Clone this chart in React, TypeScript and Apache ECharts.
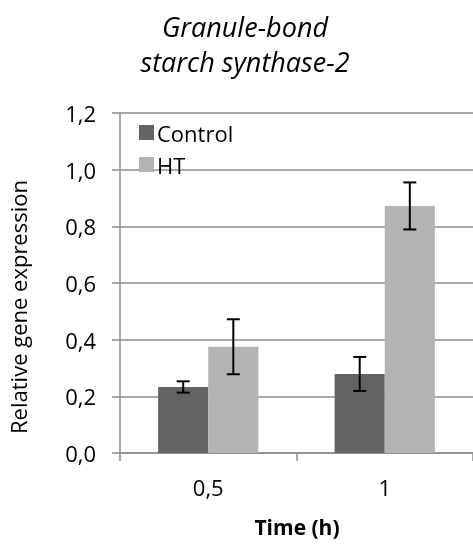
import React, { useEffect, useRef } from "react";
import * as echarts from "echarts";

// Time points (h) and expression values
const categories = ["0,5", "1"];
const controlValues = [0.233, 0.279];
const htValues = [0.375, 0.872];
// Half-width of the error bars
const controlErr = [0.02, 0.06];
const htErr = [0.097, 0.083];
const yTicks = { min: 0, max: 1.2, interval: 0.2 };

const FONT = "'Open Sans', sans-serif";
const AXIS_GRAY = "#8c8c8c";
const BAR_FRACTION = 0.284;

export default function App() {
  const ref = useRef<HTMLDivElement>(null);

  useEffect(() => {
    if (!ref.current) return;
    const chart = echarts.init(ref.current, null, { renderer: "svg" });

    const errData: any[] = [];
    controlValues.forEach((v, i) => errData.push([i, v - controlErr[i], v + controlErr[i], 0]));
    htValues.forEach((v, i) => errData.push([i, v - htErr[i], v + htErr[i], 1]));

    chart.setOption({
      animation: false,
      textStyle: { fontFamily: FONT },
      title: {
        text: "Granule-bond\nstarch synthase-2",
        left: 240,
        textAlign: "center",
        top: 4,
        textStyle: {
          fontFamily: FONT,
          fontStyle: "italic",
          fontWeight: "normal",
          fontSize: 27,
          lineHeight: 35,
          color: "#000",
        },
      },
      legend: {
        orient: "vertical",
        left: 134,
        top: 116,
        itemWidth: 15,
        itemHeight: 15,
        itemGap: 9,
        icon: "rect",
        textStyle: { fontFamily: FONT, fontSize: 22, lineHeight: 23, color: "#000", padding: [0, 0, 0, -2] },
        data: ["Control", "HT"],
      },
      grid: { left: 120, top: 113, width: 355, height: 340 },
      xAxis: {
        type: "category",
        data: categories,
        axisLine: { lineStyle: { color: AXIS_GRAY, width: 1.5 } },
        axisTick: { show: true, length: 8, lineStyle: { color: AXIS_GRAY, width: 1.5 } },
        axisLabel: { fontFamily: FONT, fontSize: 22, color: "#000", margin: 23 },
      },
      yAxis: {
        type: "value",
        min: yTicks.min,
        max: yTicks.max,
        interval: yTicks.interval,
        axisLine: { show: true, lineStyle: { color: AXIS_GRAY, width: 1.5 } },
        axisTick: { show: true, length: 8, lineStyle: { color: AXIS_GRAY, width: 1.5 } },
        splitLine: { lineStyle: { color: AXIS_GRAY, width: 1.5 } },
        axisLabel: {
          fontFamily: FONT,
          fontSize: 22,
          color: "#000",
          margin: 24,
          formatter: (v: number) => v.toFixed(1).replace(".", ","),
        },
      },
      graphic: [
        {
          type: "text",
          x: 18,
          y: 307,
          rotation: Math.PI / 2,
          style: {
            text: "Relative gene expression",
            fontFamily: FONT,
            fontSize: 22,
            fill: "#000",
            align: "center",
            verticalAlign: "middle",
          },
        },
        {
          type: "text",
          x: 297,
          y: 527,
          style: {
            text: "Time (h)",
            fontFamily: FONT,
            fontSize: 21,
            fontWeight: "bold",
            fill: "#000",
            align: "center",
            verticalAlign: "middle",
          },
        },
      ],
      series: [
        {
          name: "Control",
          type: "bar",
          data: controlValues,
          barWidth: `${BAR_FRACTION * 100}%`,
          barGap: "0%",
          itemStyle: { color: "#636363" },
        },
        {
          name: "HT",
          type: "bar",
          data: htValues,
          barWidth: `${BAR_FRACTION * 100}%`,
          barGap: "0%",
          itemStyle: { color: "#b3b3b3" },
        },
        {
          type: "custom",
          data: errData,
          encode: { x: 0, y: [1, 2] },
          z: 10,
          renderItem: (_params: any, api: any) => {
            const idx = api.value(0);
            const lo = api.coord([idx, api.value(1)]);
            const hi = api.coord([idx, api.value(2)]);
            const bw = api.size([1, 0])[0] * BAR_FRACTION;
            const x = lo[0] + (api.value(3) === 0 ? -bw / 2 : bw / 2);
            const cap = 6.5;
            const style = { stroke: "#000", lineWidth: 2 };
            return {
              type: "group",
              children: [
                { type: "line", shape: { x1: x, y1: hi[1], x2: x, y2: lo[1] }, style },
                { type: "line", shape: { x1: x - cap, y1: hi[1], x2: x + cap, y2: hi[1] }, style },
                { type: "line", shape: { x1: x - cap, y1: lo[1], x2: x + cap, y2: lo[1] }, style },
              ],
            };
          },
        },
      ],
    });

    return () => chart.dispose();
  }, []);

  return <div ref={ref} style={{ position: "fixed", left: 0, top: 0, width: 473, height: 544 }} />;
}
